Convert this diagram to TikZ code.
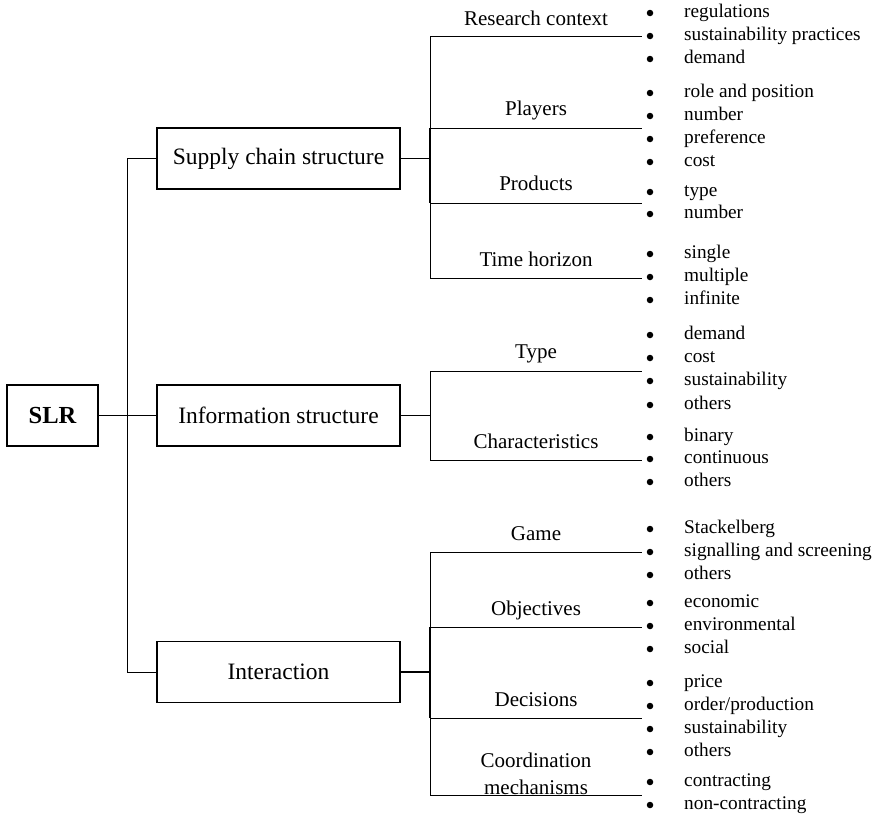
\documentclass[tikz,border=0pt]{standalone}
\usepackage{fontspec}
\setmainfont{Liberation Serif}
\begin{document}
\begin{tikzpicture}[x=1pt,y=-1pt,
  box/.style={draw,line width=1.8pt,minimum height=61pt,inner sep=0pt,font=\fontsize{23.5}{27}\selectfont},
  cat/.style={font=\fontsize{21}{24}\selectfont,anchor=mid,align=center,inner sep=0pt},
  itm/.style={font=\fontsize{19.3}{22}\selectfont,anchor=mid west,inner sep=0pt},
  dot/.style={circle,fill,inner sep=0pt,minimum size=6.5pt},
  ln/.style={line width=1pt},
  thk/.style={line width=1.7pt}]
\useasboundingbox (0,0) rectangle (874,817);

% main boxes
\node[box,minimum width=91pt,font=\fontsize{24.5}{27}\selectfont\bfseries] (slr) at (52.5,415.5) {SLR};
\node[box,minimum width=243pt] (sc) at (278.5,158.5) {Supply chain structure};
\node[box,minimum width=243pt] (is) at (278.5,415.5) {Information structure};
\node[box,minimum width=243pt] (ia) at (278.5,672) {Interaction};

% spine
\coordinate (sp) at (128,415.5);
\draw[thk] (slr.east) -- (sp);
\draw[ln] (sp) -- (is.west);
\draw[ln] (sc.west) -- ++(-29,0) |- (ia.west);

% supply chain trunk
\coordinate (s1) at (430,36);  \coordinate (s1e) at (642,36);
\coordinate (s2) at (430,128); \coordinate (s2e) at (642,128);
\coordinate (s3) at (430,203); \coordinate (s3e) at (642,203);
\coordinate (s4) at (430,278); \coordinate (s4e) at (642,278);
\coordinate (sj) at (430,158.5);
\draw[thk] (sc.east) -- (sj);
\draw[ln] (s1) -- (s4);
\draw[thk] (s2) -- (s3);
\draw[ln] (s1) -- (s1e) (s2) -- (s2e) (s3) -- (s3e) (s4) -- (s4e);
\node[cat] (lrc) at (536,23.5) {Research context};
\node[cat] (lpl) at (536,113.5) {Players};
\node[cat] (lpr) at (536,188.5) {Products};
\node[cat] (lth) at (536,264.5) {Time horizon};

% information trunk
\coordinate (i1) at (430,371); \coordinate (i1e) at (642,371);
\coordinate (i2) at (430,460); \coordinate (i2e) at (642,460);
\coordinate (ij) at (430,415.5);
\draw[ln] (is.east) -- (ij);
\draw[ln] (i1) -- (i2);
\draw[ln] (i1) -- (i1e) (i2) -- (i2e);
\node[cat] (lty) at (536,356.5) {Type};
\node[cat] (lch) at (536,446.5) {Characteristics};

% interaction trunk
\coordinate (g1) at (430,552); \coordinate (g1e) at (642,552);
\coordinate (g2) at (430,627); \coordinate (g2e) at (642,627);
\coordinate (g3) at (430,718); \coordinate (g3e) at (642,718);
\coordinate (g4) at (430,795); \coordinate (g4e) at (642,795);
\coordinate (gj) at (430,672);
\draw[thk] (ia.east) -- (gj);
\draw[ln] (g1) -- (g4);
\draw[thk] (g2) -- (g3);
\draw[ln] (g1) -- (g1e) (g2) -- (g2e) (g3) -- (g3e) (g4) -- (g4e);
\node[cat] (lga) at (536,538.5) {Game};
\node[cat] (lob) at (536,613.5) {Objectives};
\node[cat] (lde) at (536,704.5) {Decisions};
\node[cat,anchor=center,font=\fontsize{21}{27}\selectfont] (lco) at (536,774) {Coordination\\mechanisms};

% bullet items
\foreach \y/\t [count=\k] in {
  12/regulations, 35/sustainability practices, 58/demand,
  92/role and position, 115/number, 138/preference, 161/cost,
  191/type, 213/number,
  253/single, 276/multiple, 299/infinite,
  334/demand, 357/cost, 380/sustainability, 404/others,
  436/binary, 458/continuous, 481/others,
  528/Stackelberg, 551/signalling and screening, 574/others,
  602/economic, 625/environmental, 648/social,
  682/price, 705/{order/production}, 728/sustainability, 751/others,
  781/contracting, 804/non-contracting}{
  \node[dot] (b\k) at (650,\y+1) {};
  \node[itm] (t\k) at (684,\y+3) {\t};
}
\end{tikzpicture}
\end{document}
